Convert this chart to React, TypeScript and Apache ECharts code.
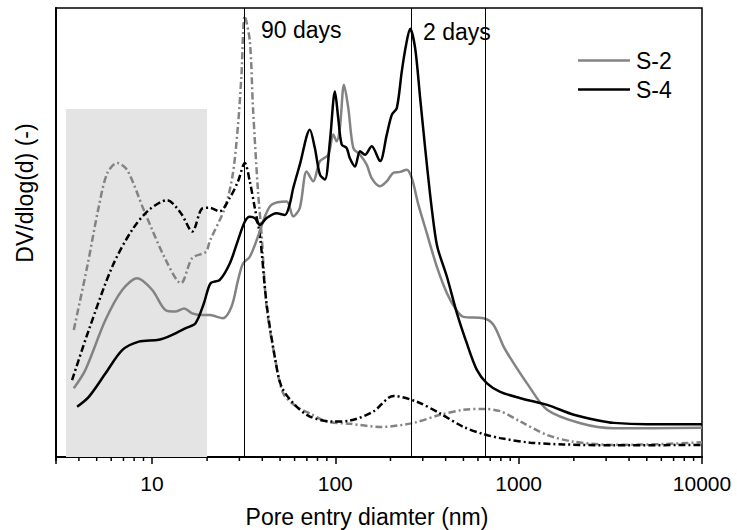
import React, { useEffect, useRef } from "react";
import * as echarts from "echarts";

// Pore entry diameter (nm) vs DV/dlog(d) (relative units)
const s2Dash: [number, number][] = [
  [3.75, 28.3], [4.44, 42.4], [5.13, 55.7], [5.71, 63.2], [6.47, 65.5], [7.34, 63.9], [9.04, 55.0],
  [11.9, 43.9], [14.4, 38.7], [16.6, 44.3], [19.7, 45.7], [20.7, 48.1], [25.0, 55.5], [27.6, 62.9],
  [29.5, 74.0], [30.8, 85.1], [32.1, 98.2], [34.2, 92.7], [35.6, 77.7], [37.9, 59.2], [39.6, 49.9],
  [42.2, 33.5], [46.8, 22.3], [52.0, 14.2], [61.5, 11.2], [72.7, 9.7], [89.7, 7.9], [120, 7.4],
  [176, 6.7], [267, 7.6], [373, 9.4], [500, 10.5], [644, 10.7], [794, 10.2], [1022, 7.9],
  [1430, 4.9], [2000, 3.4], [3304, 2.7], [6197, 2.9], [10000, 3.3],
];

const s4Dash: [number, number][] = [
  [3.67, 17.1], [4.53, 28.3], [6.08, 42.4], [7.81, 50.6], [9.63, 55.0], [12.1, 57.2], [14.4, 54.3],
  [16.6, 50.2], [18.9, 55.4], [20.7, 55.5], [23.4, 54.7], [26.6, 57.7], [29.5, 61.4], [32.1, 65.5],
  [34.2, 61.4], [36.4, 55.5], [38.8, 49.5], [42.2, 34.2], [46.8, 22.3], [50.9, 15.7], [59.0, 12.0],
  [72.7, 9.0], [97.5, 7.9], [120, 8.1], [161, 10.1], [208, 13.6], [279, 12.3], [373, 9.7],
  [500, 6.7], [644, 5.1], [794, 4.2], [1158, 3.2], [1762, 2.8], [3304, 2.6], [10000, 2.7],
];

const s2Solid: [number, number][] = [
  [3.75, 15.3], [4.34, 19.4], [5.58, 30.5], [6.89, 37.2], [8.32, 39.8], [10.05, 37.2], [11.9, 32.7],
  [13.5, 32.4], [15.0, 33.1], [16.6, 32.0], [18.9, 31.6], [20.7, 31.6], [24.4, 30.9], [27.2, 33.5],
  [29.5, 39.4], [31.4, 43.1], [34.2, 44.6], [37.9, 49.1], [41.3, 53.5], [44.9, 56.2], [54.3, 56.9],
  [59.0, 53.6], [64.1, 55.5], [69.8, 63.6], [75.8, 61.4], [82.5, 65.9], [91.6, 67.3], [97.5, 71.8],
  [101.8, 70.3], [106, 73.3], [111.6, 82.9], [117.8, 77.7], [125.5, 68.8], [136.5, 67.3],
  [148.5, 65.1], [158, 62.1], [175.5, 60.3], [191, 61.4], [207.5, 63.3], [226, 63.5], [245.6, 64.0],
  [261.6, 62.1], [284, 56.2], [316, 49.8], [358, 42.4], [406, 36.5], [451, 33.1], [500, 31.2],
  [644, 30.9], [730, 29.4], [828, 24.6], [939, 20.9], [1111, 16.4], [1430, 10.5], [2174, 7.5],
  [3304, 6.4], [10000, 6.5],
];

const s4Solid: [number, number][] = [
  [3.91, 11.2], [4.53, 13.4], [5.58, 18.6], [6.89, 23.8], [8.49, 25.7], [10.9, 26.1], [12.9, 27.2],
  [15.3, 28.7], [17.3, 29.8], [19.2, 34.2], [20.9, 38.7], [23.4, 39.4], [26.6, 43.1], [29.5, 48.3],
  [32.1, 52.4], [34.2, 53.5], [36.4, 53.2], [38.8, 51.7], [42.2, 53.2], [47.8, 54.3], [53.1, 53.9],
  [56.6, 56.5], [59.0, 59.9], [64.1, 65.1], [72.7, 72.9], [77.4, 68.8], [82.5, 62.9], [87.8, 61.8],
  [93.5, 70.3], [99.6, 81.4], [103.8, 75.5], [108.4, 69.6], [115.4, 68.8], [120, 66.6],
  [128.1, 64.7], [136.5, 68.1], [145.3, 67.3], [158, 69.2], [175.5, 65.9], [191, 71.8],
  [203.4, 76.2], [216.6, 77.7], [230.6, 85.9], [243.4, 91.8], [256, 95.4], [272.6, 91.1],
  [290.3, 80.0], [309.2, 68.8], [329.2, 58.4], [350.6, 49.5], [364, 46.1], [406, 40.2], [461, 32.0],
  [522, 25.3], [592, 19.4], [672, 16.4], [794, 14.5], [1022, 13.1], [1430, 11.6], [2000, 9.4],
  [2682, 8.2], [3304, 7.6], [5030, 7.3], [10000, 7.3],
];

const legendNames = ["S-2", "S-4"];
const ageLines = [32, 260, 660];
const ageLabels = ["90 days", "2 days"];
const shadeRange = [3.4, 20];
const shadeTop = 77.5;
const xMin = 3;
const xMax = 10000;
const minorTicks = [
  3, 4, 5, 6, 7, 8, 9, 20, 30, 40, 50, 60, 70, 80, 90, 200, 300, 400, 500, 600, 700, 800, 900,
  2000, 3000, 4000, 5000, 6000, 7000, 8000, 9000,
];
const xTitle = "Pore entry diamter (nm)";
const yTitle = "DV/dlog(d) (-)";

const FONT = '"Liberation Sans", Arial, Helvetica, sans-serif';
const GRAY = "#838383";
const DASHDOT = [7, 3, 2, 3];

export default function App() {
  const ref = useRef<HTMLDivElement>(null);

  useEffect(() => {
    if (!ref.current) return;
    const chart = echarts.init(ref.current, undefined, { renderer: "svg" });
    const lineBase = {
      type: "line" as const,
      symbol: "none",
      smooth: 0.3,
      showSymbol: false,
      silent: true,
    };
    chart.setOption({
      animation: false,
      backgroundColor: "#fff",
      textStyle: { fontFamily: FONT },
      grid: {
        left: 56,
        right: 35,
        top: 8,
        bottom: 73,
        show: true,
        borderColor: "#000",
        borderWidth: 1.5,
        backgroundColor: "transparent",
      },
      legend: {
        data: legendNames,
        orient: "vertical",
        left: 578,
        top: 49,
        padding: 0,
        icon: "rect",
        itemWidth: 52,
        itemHeight: 2.7,
        itemGap: 6,
        textStyle: { fontSize: 23, color: "#000", fontFamily: FONT, padding: [0, 0, 0, 1] },
        selectedMode: false,
      },
      xAxis: {
        type: "log",
        logBase: 10,
        min: xMin,
        max: xMax,
        axisLine: { show: true, lineStyle: { color: "#000", width: 2 } },
        axisTick: { show: true, length: 7, lineStyle: { color: "#000", width: 1.5 } },
        axisLabel: {
          fontSize: 21,
          color: "#000",
          fontFamily: FONT,
          margin: 16,
          formatter: (v: number) => {
            const l = Math.log10(v);
            return Math.abs(l - Math.round(l)) < 1e-6 ? String(Math.round(v)) : "";
          },
        },
        splitLine: { show: false },
      },
      yAxis: {
        type: "value",
        min: 0,
        max: 100,
        axisLine: { show: true, lineStyle: { color: "#000", width: 2 } },
        axisTick: { show: false },
        axisLabel: { show: false },
        splitLine: { show: false },
      },
      graphic: [
        {
          type: "text",
          x: 261,
          y: 30,
          style: {
            text: ageLabels[0],
            font: `23px ${FONT}`,
            fill: "#000",
            textAlign: "left",
            textVerticalAlign: "middle",
          },
        },
        {
          type: "text",
          x: 423,
          y: 32,
          style: {
            text: ageLabels[1],
            font: `23px ${FONT}`,
            fill: "#000",
            textAlign: "left",
            textVerticalAlign: "middle",
          },
        },
        {
          type: "text",
          x: 367,
          y: 517,
          style: {
            text: xTitle,
            font: `23px ${FONT}`,
            fill: "#000",
            textAlign: "center",
            textVerticalAlign: "middle",
          },
        },
        {
          type: "text",
          x: 25,
          y: 193,
          rotation: Math.PI / 2,
          style: {
            text: yTitle,
            font: `23px ${FONT}`,
            fill: "#000",
            textAlign: "center",
            textVerticalAlign: "middle",
          },
        },
      ],
      series: [
        {
          ...lineBase,
          name: "S-2 dash",
          data: s2Dash,
          lineStyle: { color: GRAY, width: 2.5, type: DASHDOT },
          itemStyle: { color: GRAY },
          markArea: {
            silent: true,
            itemStyle: { color: "#e4e4e4" },
            data: [[{ xAxis: shadeRange[0], yAxis: 0 }, { xAxis: shadeRange[1], yAxis: shadeTop }]],
          },
        },
        {
          ...lineBase,
          name: "S-4 dash",
          data: s4Dash,
          lineStyle: { color: "#000", width: 2.5, type: DASHDOT },
          itemStyle: { color: "#000" },
        },
        {
          ...lineBase,
          name: "S-2",
          data: s2Solid,
          lineStyle: { color: GRAY, width: 2.5 },
          itemStyle: { color: GRAY },
        },
        {
          ...lineBase,
          name: "S-4",
          data: s4Solid,
          lineStyle: { color: "#000", width: 2.5 },
          itemStyle: { color: "#000" },
          markLine: {
            silent: true,
            symbol: ["none", "none"],
            label: { show: false },
            lineStyle: { color: "#000", width: 1, type: "solid" },
            data: ageLines.map((v) => ({ xAxis: v })),
          },
        },
        {
          type: "custom",
          name: "minor ticks",
          silent: true,
          clip: false,
          z: 10,
          data: minorTicks.map((v) => [v, 0]),
          renderItem: (_params: any, api: any) => {
            const p = api.coord([api.value(0), 0]);
            return {
              type: "line",
              shape: { x1: p[0], y1: p[1], x2: p[0], y2: p[1] + 4 },
              style: { stroke: "#000", lineWidth: 1.5 },
            };
          },
        },
      ],
    });
    return () => chart.dispose();
  }, []);

  return (
    <div
      ref={ref}
      style={{ position: "absolute", left: 0, top: 0, width: 737, height: 530 }}
    />
  );
}
